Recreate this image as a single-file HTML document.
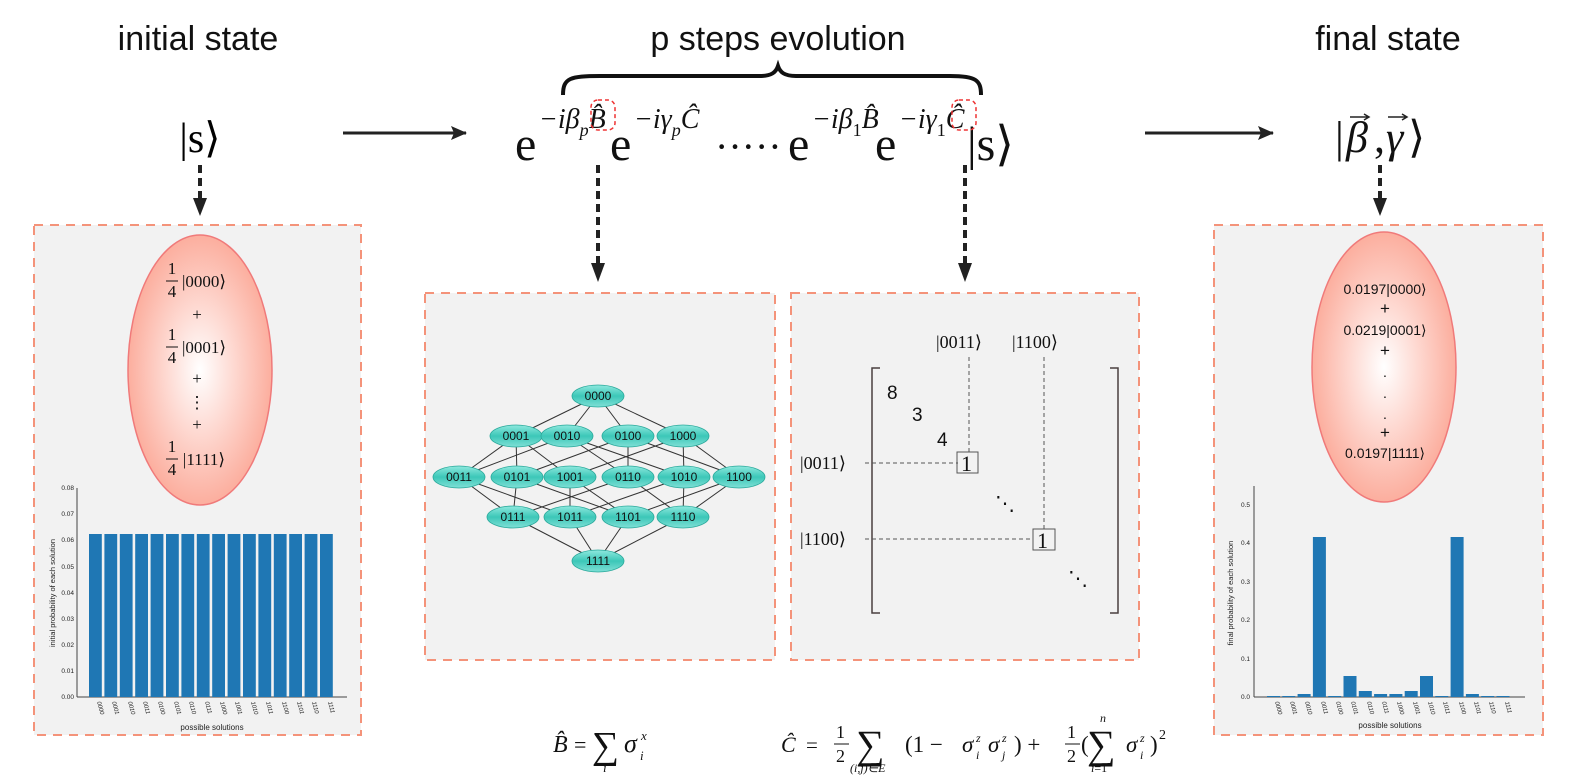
<!DOCTYPE html>
<html><head><meta charset="utf-8"><style>body{margin:0;background:#fff}svg{display:block}</style></head><body>
<svg width="1572" height="775" viewBox="0 0 1572 775" xmlns="http://www.w3.org/2000/svg" font-family="Liberation Serif, serif">
<defs>
<radialGradient id="g" cx="50%" cy="50%" r="50%"><stop offset="0" stop-color="#fff"/><stop offset="1" stop-color="#fcae9e"/></radialGradient>
<linearGradient id="n" x1="0" y1="0" x2="0" y2="1"><stop offset="0" stop-color="#8fe8de"/><stop offset="0.5" stop-color="#3cc7b8"/><stop offset="1" stop-color="#7fe0d6"/></linearGradient>
<marker id="ah2" markerWidth="16" markerHeight="14" refX="15" refY="7" orient="auto" markerUnits="userSpaceOnUse"><path d="M0,0 L16,7 L0,14 L3,7 z" fill="#222"/></marker>
</defs>

<g font-family="Liberation Sans, sans-serif" font-size="34" fill="#111" text-anchor="middle">
<text x="198" y="50">initial state</text>
<text x="778" y="50">p steps evolution</text>
<text x="1388" y="50">final state</text>
</g>

<path d="M563,95 C563,78 570,76 600,76 L760,76 C772,76 776,72 778,66 C780,72 784,76 796,76 L950,76 C976,76 981,80 981,95" fill="none" stroke="#111" stroke-width="4"/>

<text x="200" y="152" font-size="42" text-anchor="middle">|s⟩</text>
<line x1="343" y1="133" x2="466" y2="133" stroke="#222" stroke-width="3" marker-end="url(#ah2)"/>
<line x1="1145" y1="133" x2="1273" y2="133" stroke="#222" stroke-width="3" marker-end="url(#ah2)"/>

<g font-size="48" fill="#111">
<text x="515" y="160">e</text>
<text x="610" y="160">e</text>
<text x="715" y="160" font-size="40">·····</text>
<text x="788" y="160">e</text>
<text x="875" y="160">e</text>
<text x="967" y="160">|s⟩</text>
</g>
<g font-size="28" font-style="italic" fill="#111">
<text x="539" y="128">−iβ<tspan font-size="18" dy="8">p</tspan><tspan dy="-8">B̂</tspan></text>
<text x="634" y="128">−iγ<tspan font-size="18" dy="8">p</tspan><tspan dy="-8">Ĉ</tspan></text>
<text x="812" y="128">−iβ<tspan font-size="18" dy="8" font-style="normal">1</tspan><tspan dy="-8">B̂</tspan></text>
<text x="899" y="128">−iγ<tspan font-size="18" dy="8" font-style="normal">1</tspan><tspan dy="-8">Ĉ</tspan></text>
</g>
<rect x="591" y="100" width="24" height="30" rx="7" fill="none" stroke="#e33" stroke-width="1.5" stroke-dasharray="4,3"/>
<rect x="952" y="100" width="24" height="30" rx="7" fill="none" stroke="#e33" stroke-width="1.5" stroke-dasharray="4,3"/>

<g font-size="44" fill="#111">
<text x="1335" y="152">|</text>
<text x="1346" y="152" font-style="italic">β</text>
<text x="1374" y="152">,</text>
<text x="1386" y="152" font-style="italic">γ</text>
<text x="1408" y="152">⟩</text>
</g>
<g stroke="#222" stroke-width="1.5" fill="none"><path d="M1350,117 l18,0 M1364,114 l5,3 l-5,3"/><path d="M1388,117 l18,0 M1402,114 l5,3 l-5,3"/></g>

<g stroke="#222" stroke-width="4" stroke-dasharray="8,5">
<line x1="200" y1="165" x2="200" y2="200"/>
<line x1="598" y1="165" x2="598" y2="265"/>
<line x1="965" y1="165" x2="965" y2="265"/>
<line x1="1380" y1="165" x2="1380" y2="200"/>
</g>
<g fill="#222">
<path d="M193,198 L207,198 L200,216 z"/><path d="M591,263 L605,263 L598,282 z"/><path d="M958,263 L972,263 L965,282 z"/><path d="M1373,198 L1387,198 L1380,216 z"/>
</g>

<g fill="#f2f2f2" stroke="#f4937a" stroke-width="2" stroke-dasharray="9,7">
<rect x="34" y="225" width="327" height="510"/>
<rect x="425" y="293" width="350" height="367"/>
<rect x="791" y="293" width="348" height="367"/>
<rect x="1214" y="225" width="329" height="510"/>
</g>

<ellipse cx="200" cy="370" rx="72" ry="135" fill="url(#g)" stroke="#f07a7a" stroke-width="1.5"/>
<g font-size="17" fill="#111" text-anchor="middle">
<text x="172" y="274">1</text><line x1="166" y1="281" x2="178" y2="281" stroke="#111"/><text x="172" y="297">4</text><text x="204" y="287">|0000⟩</text>
<text x="197" y="320">+</text>
<text x="172" y="340">1</text><line x1="166" y1="347" x2="178" y2="347" stroke="#111"/><text x="172" y="363">4</text><text x="204" y="353">|0001⟩</text>
<text x="197" y="384">+</text>
<text x="197" y="408">⋮</text>
<text x="197" y="430">+</text>
<text x="172" y="452">1</text><line x1="166" y1="459" x2="178" y2="459" stroke="#111"/><text x="172" y="475">4</text><text x="204" y="465">|1111⟩</text>
</g>

<g font-family="Liberation Sans, sans-serif" font-size="6.5" fill="#222">
<line x1="77" y1="488" x2="77" y2="697" stroke="#444"/>
<line x1="77" y1="697" x2="347" y2="697" stroke="#444"/>
<g text-anchor="end">
<text x="74" y="490">0.08</text><text x="74" y="516">0.07</text><text x="74" y="542">0.06</text><text x="74" y="569">0.05</text><text x="74" y="595">0.04</text><text x="74" y="621">0.03</text><text x="74" y="647">0.02</text><text x="74" y="673">0.01</text><text x="74" y="699">0.00</text>
</g>
<text transform="translate(55,593) rotate(-90)" font-size="7.5" text-anchor="middle">initial probability of each solution</text>
<text x="212" y="730" font-size="8" text-anchor="middle">possible solutions</text>
<g fill="#1f77b4">
<rect x="89" y="534" width="12.8" height="163"/><rect x="104.4" y="534" width="12.8" height="163"/><rect x="119.8" y="534" width="12.8" height="163"/><rect x="135.2" y="534" width="12.8" height="163"/><rect x="150.6" y="534" width="12.8" height="163"/><rect x="166" y="534" width="12.8" height="163"/><rect x="181.4" y="534" width="12.8" height="163"/><rect x="196.8" y="534" width="12.8" height="163"/><rect x="212.2" y="534" width="12.8" height="163"/><rect x="227.6" y="534" width="12.8" height="163"/><rect x="243" y="534" width="12.8" height="163"/><rect x="258.4" y="534" width="12.8" height="163"/><rect x="273.8" y="534" width="12.8" height="163"/><rect x="289.2" y="534" width="12.8" height="163"/><rect x="304.6" y="534" width="12.8" height="163"/><rect x="320" y="534" width="12.8" height="163"/>
</g>
<g font-style="italic" font-size="6">
<text transform="translate(97,702) rotate(75)">0000</text><text transform="translate(112,702) rotate(75)">0001</text><text transform="translate(128,702) rotate(75)">0010</text><text transform="translate(143,702) rotate(75)">0011</text><text transform="translate(158,702) rotate(75)">0100</text><text transform="translate(174,702) rotate(75)">0101</text><text transform="translate(189,702) rotate(75)">0110</text><text transform="translate(205,702) rotate(75)">0111</text><text transform="translate(220,702) rotate(75)">1000</text><text transform="translate(235,702) rotate(75)">1001</text><text transform="translate(251,702) rotate(75)">1010</text><text transform="translate(266,702) rotate(75)">1011</text><text transform="translate(282,702) rotate(75)">1100</text><text transform="translate(297,702) rotate(75)">1101</text><text transform="translate(312,702) rotate(75)">1110</text><text transform="translate(328,702) rotate(75)">1111</text>
</g>
</g>

<g stroke="#333" stroke-width="1">
<line x1="598" y1="396" x2="516" y2="436"/><line x1="598" y1="396" x2="567" y2="436"/><line x1="598" y1="396" x2="628" y2="436"/><line x1="598" y1="396" x2="683" y2="436"/>
<line x1="516" y1="436" x2="459" y2="477"/><line x1="516" y1="436" x2="517" y2="477"/><line x1="516" y1="436" x2="570" y2="477"/>
<line x1="567" y1="436" x2="459" y2="477"/><line x1="567" y1="436" x2="628" y2="477"/><line x1="567" y1="436" x2="684" y2="477"/>
<line x1="628" y1="436" x2="517" y2="477"/><line x1="628" y1="436" x2="628" y2="477"/><line x1="628" y1="436" x2="739" y2="477"/>
<line x1="683" y1="436" x2="570" y2="477"/><line x1="683" y1="436" x2="684" y2="477"/><line x1="683" y1="436" x2="739" y2="477"/>
<line x1="459" y1="477" x2="513" y2="517"/><line x1="459" y1="477" x2="570" y2="517"/>
<line x1="517" y1="477" x2="513" y2="517"/><line x1="517" y1="477" x2="628" y2="517"/>
<line x1="570" y1="477" x2="570" y2="517"/><line x1="570" y1="477" x2="628" y2="517"/>
<line x1="628" y1="477" x2="513" y2="517"/><line x1="628" y1="477" x2="683" y2="517"/>
<line x1="684" y1="477" x2="570" y2="517"/><line x1="684" y1="477" x2="683" y2="517"/>
<line x1="739" y1="477" x2="628" y2="517"/><line x1="739" y1="477" x2="683" y2="517"/>
<line x1="513" y1="517" x2="598" y2="561"/><line x1="570" y1="517" x2="598" y2="561"/><line x1="628" y1="517" x2="598" y2="561"/><line x1="683" y1="517" x2="598" y2="561"/>
</g>
<g fill="url(#n)" stroke="#2aa99b" stroke-width="0.8">
<ellipse cx="598" cy="396" rx="26" ry="11"/>
<ellipse cx="516" cy="436" rx="26" ry="11"/><ellipse cx="567" cy="436" rx="26" ry="11"/><ellipse cx="628" cy="436" rx="26" ry="11"/><ellipse cx="683" cy="436" rx="26" ry="11"/>
<ellipse cx="459" cy="477" rx="26" ry="11"/><ellipse cx="517" cy="477" rx="26" ry="11"/><ellipse cx="570" cy="477" rx="26" ry="11"/><ellipse cx="628" cy="477" rx="26" ry="11"/><ellipse cx="684" cy="477" rx="26" ry="11"/><ellipse cx="739" cy="477" rx="26" ry="11"/>
<ellipse cx="513" cy="517" rx="26" ry="11"/><ellipse cx="570" cy="517" rx="26" ry="11"/><ellipse cx="628" cy="517" rx="26" ry="11"/><ellipse cx="683" cy="517" rx="26" ry="11"/>
<ellipse cx="598" cy="561" rx="26" ry="11"/>
</g>
<g font-family="Liberation Sans, sans-serif" font-size="12" fill="#111" text-anchor="middle">
<text x="598" y="400">0000</text>
<text x="516" y="440">0001</text><text x="567" y="440">0010</text><text x="628" y="440">0100</text><text x="683" y="440">1000</text>
<text x="459" y="481">0011</text><text x="517" y="481">0101</text><text x="570" y="481">1001</text><text x="628" y="481">0110</text><text x="684" y="481">1010</text><text x="739" y="481">1100</text>
<text x="513" y="521">0111</text><text x="570" y="521">1011</text><text x="628" y="521">1101</text><text x="683" y="521">1110</text>
<text x="598" y="565">1111</text>
</g>

<g fill="none" stroke="#4a4040" stroke-width="1.5">
<path d="M880,368 L872,368 L872,613 L880,613"/>
<path d="M1110,368 L1118,368 L1118,613 L1110,613"/>
</g>
<g stroke="#555" stroke-width="1" stroke-dasharray="4,3">
<line x1="969" y1="357" x2="969" y2="452"/><line x1="1044" y1="357" x2="1044" y2="529"/>
<line x1="865" y1="463" x2="958" y2="463"/><line x1="865" y1="539" x2="1033" y2="539"/>
</g>
<rect x="957" y="452" width="21" height="21" fill="none" stroke="#555"/>
<rect x="1033" y="529" width="22" height="21" fill="none" stroke="#555"/>
<g font-size="18" fill="#111">
<text x="936" y="348">|0011⟩</text><text x="1012" y="348">|1100⟩</text>
<text x="800" y="469">|0011⟩</text><text x="800" y="545">|1100⟩</text>
<text x="887" y="399" font-family="Liberation Sans, sans-serif" font-size="19">8</text>
<text x="912" y="421" font-family="Liberation Sans, sans-serif" font-size="19">3</text>
<text x="937" y="446" font-family="Liberation Sans, sans-serif" font-size="19">4</text>
<text x="961" y="471" font-size="22">1</text><text x="1037" y="548" font-size="22">1</text>
<text x="995" y="510" font-size="20">⋱</text><text x="1068" y="585" font-size="20">⋱</text>
</g>

<ellipse cx="1384" cy="367" rx="72" ry="135" fill="url(#g)" stroke="#f07a7a" stroke-width="1.5"/>
<g font-size="14" fill="#111" text-anchor="middle" font-family="Liberation Sans, sans-serif">
<text x="1385" y="294">0.0197|0000⟩</text>
<text x="1385" y="314" font-size="17">+</text>
<text x="1385" y="335">0.0219|0001⟩</text>
<text x="1385" y="356" font-size="17">+</text>
<text x="1385" y="377">.</text><text x="1385" y="398">.</text><text x="1385" y="419">.</text>
<text x="1385" y="438" font-size="17">+</text>
<text x="1385" y="458">0.0197|1111⟩</text>
</g>

<g font-family="Liberation Sans, sans-serif" font-size="6.5" fill="#222">
<line x1="1254" y1="486" x2="1254" y2="697" stroke="#444"/>
<line x1="1254" y1="697" x2="1525" y2="697" stroke="#444"/>
<g text-anchor="end">
<text x="1250" y="507">0.5</text><text x="1250" y="545">0.4</text><text x="1250" y="584">0.3</text><text x="1250" y="622">0.2</text><text x="1250" y="661">0.1</text><text x="1250" y="699">0.0</text>
</g>
<text transform="translate(1233,593) rotate(-90)" font-size="7.5" text-anchor="middle">final probability of each solution</text>
<text x="1390" y="728" font-size="8" text-anchor="middle">possible solutions</text>
<g fill="#1f77b4">
<rect x="1267" y="696" width="13" height="1"/><rect x="1282.3" y="696" width="13" height="1"/><rect x="1297.6" y="694" width="13" height="3"/><rect x="1312.9" y="537" width="13" height="160"/><rect x="1328.2" y="696" width="13" height="1"/><rect x="1343.5" y="676" width="13" height="21"/><rect x="1358.8" y="691" width="13" height="6"/><rect x="1374.1" y="694" width="13" height="3"/><rect x="1389.4" y="694" width="13" height="3"/><rect x="1404.7" y="691" width="13" height="6"/><rect x="1420" y="676" width="13" height="21"/><rect x="1435.3" y="696" width="13" height="1"/><rect x="1450.6" y="537" width="13" height="160"/><rect x="1465.9" y="694" width="13" height="3"/><rect x="1481.2" y="696" width="13" height="1"/><rect x="1496.5" y="696" width="13" height="1"/>
</g>
<g font-style="italic" font-size="6">
<text transform="translate(1275,702) rotate(75)">0000</text><text transform="translate(1290,702) rotate(75)">0001</text><text transform="translate(1305,702) rotate(75)">0010</text><text transform="translate(1321,702) rotate(75)">0011</text><text transform="translate(1336,702) rotate(75)">0100</text><text transform="translate(1351,702) rotate(75)">0101</text><text transform="translate(1367,702) rotate(75)">0110</text><text transform="translate(1382,702) rotate(75)">0111</text><text transform="translate(1397,702) rotate(75)">1000</text><text transform="translate(1413,702) rotate(75)">1001</text><text transform="translate(1428,702) rotate(75)">1010</text><text transform="translate(1443,702) rotate(75)">1011</text><text transform="translate(1459,702) rotate(75)">1100</text><text transform="translate(1474,702) rotate(75)">1101</text><text transform="translate(1489,702) rotate(75)">1110</text><text transform="translate(1505,702) rotate(75)">1111</text>
</g>
</g>

<!-- bottom formulas -->
<g fill="#111">
<text x="553" y="752" font-size="24" font-style="italic">B̂</text>
<text x="574" y="752" font-size="22">=</text>
<text x="592" y="758" font-size="38">∑</text>
<text x="603" y="772" font-size="13" font-style="italic">i</text>
<text x="624" y="752" font-size="26" font-style="italic">σ</text>
<text x="641" y="740" font-size="13" font-style="italic">x</text>
<text x="640" y="760" font-size="13" font-style="italic">i</text>

<text x="781" y="752" font-size="22" font-style="italic">Ĉ</text>
<text x="806" y="752" font-size="21">=</text>
<text x="836" y="738" font-size="18">1</text><line x1="834" y1="744" x2="849" y2="744" stroke="#111"/><text x="836" y="762" font-size="18">2</text>
<text x="856" y="758" font-size="40">∑</text>
<text x="850" y="772" font-size="12" font-style="italic">(i,j)∈E</text>
<text x="905" y="752" font-size="23">(1 −</text>
<text x="962" y="752" font-size="23" font-style="italic">σ</text>
<text x="976" y="742" font-size="12" font-style="italic">z</text>
<text x="976" y="759" font-size="12" font-style="italic">i</text>
<text x="988" y="752" font-size="23" font-style="italic">σ</text>
<text x="1002" y="742" font-size="12" font-style="italic">z</text>
<text x="1002" y="759" font-size="12" font-style="italic">j</text>
<text x="1014" y="752" font-size="23">) +</text>
<text x="1067" y="738" font-size="18">1</text><line x1="1065" y1="744" x2="1080" y2="744" stroke="#111"/><text x="1067" y="762" font-size="18">2</text>
<text x="1081" y="752" font-size="23">(</text>
<text x="1087" y="758" font-size="40">∑</text>
<text x="1100" y="722" font-size="12" font-style="italic">n</text>
<text x="1091" y="772" font-size="12"><tspan font-style="italic">i</tspan>=1</text>
<text x="1126" y="752" font-size="23" font-style="italic">σ</text>
<text x="1140" y="742" font-size="12" font-style="italic">z</text>
<text x="1140" y="759" font-size="12" font-style="italic">i</text>
<text x="1150" y="752" font-size="23">)</text>
<text x="1159" y="739" font-size="14">2</text>
</g>
</svg>
</body></html>
